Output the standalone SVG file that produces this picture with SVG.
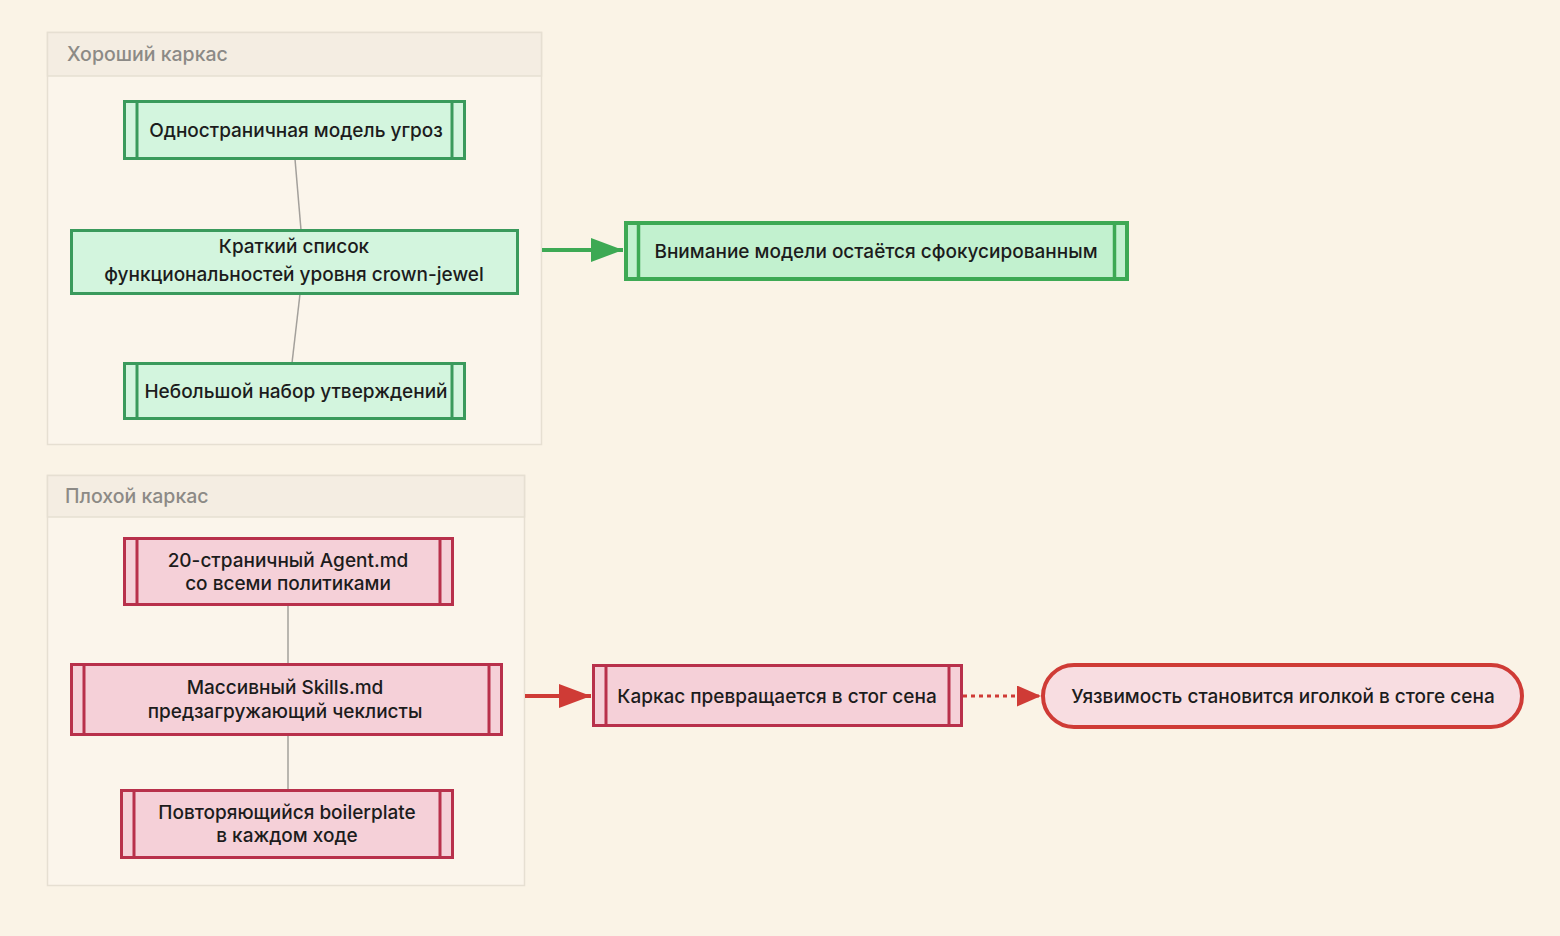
<svg xmlns="http://www.w3.org/2000/svg" width="1560" height="936" viewBox="0 0 1560 936">
<defs>
<style>
.bg{fill:#FAF3E6}
.cl{fill:#FBF5EB;stroke:#E6DFD2;stroke-width:1.5}
.hd{fill:#F4EDE2;stroke:#E6DFD2;stroke-width:1.5}
.ct{font-family:Inter,"Noto Sans",sans-serif;font-size:19.5px;font-weight:500;fill:#8C8A86}
.t{font-family:Inter,"Noto Sans",sans-serif;font-size:19px;font-weight:500;fill:#1C1C1C;text-anchor:middle}
.g{fill:#D3F5DE;stroke:#3A9A5C;stroke-width:3}
.g2{fill:#C2F1CF;stroke:#3DA954;stroke-width:4}
.r{fill:#F5D0D8;stroke:#B8304B;stroke-width:3}
.r2{fill:#F8DDE1;stroke:#CF3B36;stroke-width:4}
.bg3{stroke:#3A9A5C;stroke-width:3}
.bg4{stroke:#3DA954;stroke-width:3.5}
.br{stroke:#B8304B;stroke-width:3}
.link{stroke:#A3A09B;stroke-width:1.5;fill:none}
</style>
<marker id="ag" markerWidth="8" markerHeight="6" refX="8" refY="3" orient="auto" markerUnits="strokeWidth"><path d="M0,0 L8,3 L0,6 z" fill="#3DA954"/></marker>
<marker id="ar" markerWidth="8" markerHeight="6" refX="8" refY="3" orient="auto" markerUnits="strokeWidth"><path d="M0,0 L8,3 L0,6 z" fill="#CF3B36"/></marker>
<marker id="ard" markerWidth="8" markerHeight="7" refX="8" refY="3.5" orient="auto" markerUnits="strokeWidth"><path d="M0,0 L8,3.5 L0,7 z" fill="#CF3B36"/></marker>
</defs>
<rect class="bg" x="0" y="0" width="1560" height="936"/>

<g id="cluster-good">
<rect class="cl" x="47.5" y="32.5" width="494" height="412"/>
<rect class="hd" x="47.5" y="32.5" width="494" height="43.5"/>
<text class="ct" x="67" y="61">Хороший каркас</text>
</g>
<g id="cluster-bad">
<rect class="cl" x="47.5" y="475.5" width="477" height="410"/>
<rect class="hd" x="47.5" y="475.5" width="477" height="41.5"/>
<text class="ct" x="65" y="503">Плохой каркас</text>
</g>

<g id="connectors">
<line class="link" x1="295" y1="159" x2="301" y2="230"/>
<line class="link" x1="300" y1="294" x2="292" y2="363"/>
<line class="link" x1="288" y1="605" x2="288" y2="664"/>
<line class="link" x1="288" y1="735" x2="288" y2="790"/>
<line x1="542" y1="250" x2="623" y2="250" stroke="#3DA954" stroke-width="4" marker-end="url(#ag)"/>
<line x1="525" y1="696" x2="591" y2="696" stroke="#CF3B36" stroke-width="4" marker-end="url(#ar)"/>
<line x1="963" y1="696" x2="1041" y2="696" stroke="#CF3B36" stroke-width="3" stroke-dasharray="4 4" marker-end="url(#ard)"/>
</g>

<g id="n1">
<rect class="g" x="124.5" y="101.5" width="340" height="57"/>
<line class="bg3" x1="137" y1="101.5" x2="137" y2="158.5"/>
<line class="bg3" x1="452" y1="101.5" x2="452" y2="158.5"/>
<text class="t" x="296" y="137">Одностраничная модель угроз</text>
</g>
<g id="n2">
<rect class="g" x="71.5" y="230.5" width="446" height="63"/>
<text class="t" x="294" y="253">Краткий список</text>
<text class="t" x="294" y="281">функциональностей уровня crown-jewel</text>
</g>
<g id="n3">
<rect class="g" x="124.5" y="363.5" width="340" height="55"/>
<line class="bg3" x1="137" y1="363.5" x2="137" y2="418.5"/>
<line class="bg3" x1="452" y1="363.5" x2="452" y2="418.5"/>
<text class="t" x="296" y="398">Небольшой набор утверждений</text>
</g>
<g id="n4">
<rect class="g2" x="626" y="223" width="501" height="56"/>
<line class="bg4" x1="638.5" y1="223" x2="638.5" y2="279"/>
<line class="bg4" x1="1114.5" y1="223" x2="1114.5" y2="279"/>
<text class="t" x="876" y="258">Внимание модели остаётся сфокусированным</text>
</g>

<g id="n5">
<rect class="r" x="124.5" y="538.5" width="328" height="66"/>
<line class="br" x1="137" y1="538.5" x2="137" y2="604.5"/>
<line class="br" x1="440" y1="538.5" x2="440" y2="604.5"/>
<text class="t" x="288" y="567">20-страничный Agent.md</text>
<text class="t" x="288" y="590">со всеми политиками</text>
</g>
<g id="n6">
<rect class="r" x="71.5" y="664.5" width="430" height="70"/>
<line class="br" x1="84" y1="664.5" x2="84" y2="734.5"/>
<line class="br" x1="489" y1="664.5" x2="489" y2="734.5"/>
<text class="t" x="285" y="694">Массивный Skills.md</text>
<text class="t" x="285" y="718">предзагружающий чеклисты</text>
</g>
<g id="n7">
<rect class="r" x="121.5" y="790.5" width="331" height="67"/>
<line class="br" x1="134" y1="790.5" x2="134" y2="857.5"/>
<line class="br" x1="440" y1="790.5" x2="440" y2="857.5"/>
<text class="t" x="287" y="819">Повторяющийся boilerplate</text>
<text class="t" x="287" y="842">в каждом ходе</text>
</g>
<g id="n8">
<rect class="r" x="593.5" y="665.5" width="368" height="60"/>
<line class="br" x1="606" y1="665.5" x2="606" y2="725.5"/>
<line class="br" x1="949" y1="665.5" x2="949" y2="725.5"/>
<text class="t" x="777" y="703">Каркас превращается в стог сена</text>
</g>
<g id="n9">
<rect class="r2" x="1043" y="665" width="479" height="62" rx="31" ry="31"/>
<text class="t" x="1283" y="703">Уязвимость становится иголкой в стоге сена</text>
</g>
</svg>
